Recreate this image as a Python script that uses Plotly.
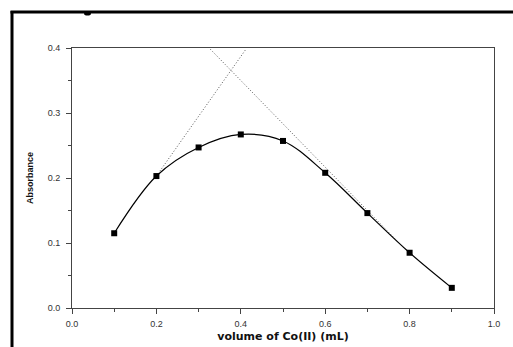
import plotly.graph_objects as go

# Data
volume = [0.1, 0.2, 0.3, 0.4, 0.5, 0.6, 0.7, 0.8, 0.9]
absorbance = [0.115, 0.203, 0.247, 0.267, 0.257, 0.208, 0.146, 0.085, 0.031]

# Extrapolated (dotted) tangent lines
left_tan_x = [0.2, 0.412]
left_tan_y = [0.203, 0.398]
right_tan_x = [0.328, 0.79]
right_tan_y = [0.398, 0.09]

x_ticks = [0.0, 0.2, 0.4, 0.6, 0.8, 1.0]
y_ticks = [0.0, 0.1, 0.2, 0.3, 0.4]

W, H = 513, 347
L, R, T, B = 72, 19, 48, 39
pw, ph = W - L - R, H - T - B


def px(xp):
    return (xp - L) / pw


def py(yp):
    return (H - B - yp) / ph


fig = go.Figure()
for tx, ty in [(left_tan_x, left_tan_y), (right_tan_x, right_tan_y)]:
    fig.add_trace(go.Scatter(x=tx, y=ty, mode="lines",
                             line=dict(color="#555", width=1, dash="1px,2px"),
                             hoverinfo="skip", showlegend=False))
fig.add_trace(go.Scatter(x=volume, y=absorbance, mode="lines+markers",
                         line=dict(color="black", width=1.2, shape="spline", smoothing=1.0),
                         marker=dict(symbol="square", size=6, color="black"),
                         showlegend=False))

axis_common = dict(
    showgrid=False, zeroline=False, showline=True, linecolor="#444", linewidth=1,
    mirror=True, ticks="outside", ticklen=5, tickcolor="#444", tickwidth=1,
    automargin=False,
    tickfont=dict(family="Liberation Sans, Arial", size=9, color="#333"),
)

fig.update_xaxes(range=[0, 1], tickvals=x_ticks, tickformat=".1f",
                 minor=dict(ticks="outside", ticklen=3, dtick=0.1, tick0=0, tickcolor="#444"),
                 title=dict(text="<b>volume of Co(II) (mL)</b>", standoff=4,
                            font=dict(family="DejaVu Sans", size=11, color="#111")),
                 ticklabelstandoff=2,
                 **axis_common)
fig.update_yaxes(range=[0, 0.4], tickvals=y_ticks, tickformat=".1f",
                 minor=dict(ticks="outside", ticklen=3, dtick=0.05, tick0=0, tickcolor="#444"),
                 title=dict(text="<b>Absorbance</b>", standoff=12,
                            font=dict(family="Liberation Sans, Arial", size=9, color="#111")),
                 ticklabelstandoff=4,
                 **axis_common)

shapes = [
    dict(type="line", xref="paper", yref="paper", x0=px(12), x1=px(12), y0=py(11), y1=py(H + 2),
         line=dict(color="black", width=3)),
    dict(type="line", xref="paper", yref="paper", x0=px(10.5), x1=px(W + 2), y0=py(12), y1=py(12),
         line=dict(color="black", width=3)),
    dict(type="circle", xref="paper", yref="paper", x0=px(84), x1=px(91), y0=py(12), y1=py(15.5),
         fillcolor="black", line=dict(color="black", width=0)),
]

fig.update_layout(
    width=W, height=H, margin=dict(l=L, r=R, t=T, b=B),
    paper_bgcolor="white", plot_bgcolor="white", shapes=shapes,
)

fig.write_html("out.html")
